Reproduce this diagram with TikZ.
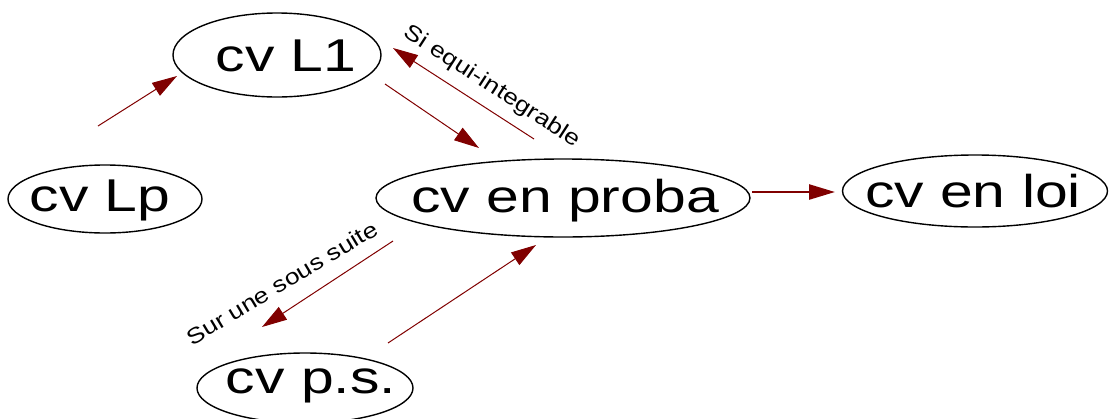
\documentclass[tikz,border=0pt]{standalone}
\usepackage{fontspec}
\setmainfont{Liberation Sans}
\usetikzlibrary{shapes.geometric,arrows.meta,calc}
\definecolor{arrowred}{RGB}{128,0,0}
\newcommand{\ntxt}[3]{\raisebox{-#3pt}[0pt][0pt]{\makebox[0pt]{\hspace*{#2pt}\scalebox{1.28}[1]{\fontsize{46}{50}\selectfont #1}}}}
\newcommand{\ltxt}[1]{\scalebox{1.2}[1]{\fontsize{22}{26}\selectfont #1}}
\tikzset{
  ell/.style={draw=black, ellipse, line width=1.4pt, inner sep=0pt},
  arr/.style={draw=arrowred, line width=1pt, -{Triangle[length=25pt,width=15pt]}},
  arrthick/.style={arr, line width=2.5pt, -{Triangle[length=26pt,width=15pt]}},
  lab/.style={inner sep=0pt}
}
\begin{document}
\begin{tikzpicture}[x=1pt,y=-1pt]
\useasboundingbox (0,0) rectangle (1111,418);
\clip (0,0) rectangle (1111,418);
\node[ell, minimum width=208pt, minimum height=84pt] (L1) at (277,55) {\ntxt{cv L1}{18}{16}};
\node[ell, minimum width=374pt, minimum height=78pt] (proba) at (563,198) {\ntxt{cv en proba}{4}{14}};
\node[ell, minimum width=194pt, minimum height=68pt] (Lp) at (105,199) {\ntxt{cv Lp}{-10}{12}};
\node[ell, minimum width=265pt, minimum height=72pt] (loi) at (975,191) {\ntxt{cv en loi}{-4}{16}};
\node[ell, minimum width=216pt, minimum height=70pt] (ps) at (305,388) {\ntxt{cv p.s.}{12}{5}};

\draw[arr] ($(Lp)+(-7,-73)$) -- ($(L1)+(-100,21)$);
\draw[arr] ($(L1)+(108,29)$) -- ($(proba)+(-84,-50)$);
\draw[arr] ($(proba)+(-29,-59)$) -- ($(L1)+(116,-7)$);
\draw[arr] ($(proba)+(-170,43)$) -- ($(ps)+(-43,-61)$);
\draw[arr] ($(ps)+(83,-45)$) -- ($(proba)+(-27,47)$);
\draw[arrthick] ($(proba)+(189,-6)$) -- ($(loi)+(-140,1)$);

\node[lab, rotate=-33] (si) at (492,87) {\ltxt{Si equi-integrable}};
\node[lab, rotate=31] (sur) at (282,283) {\ltxt{Sur une sous suite}};
\end{tikzpicture}
\end{document}
